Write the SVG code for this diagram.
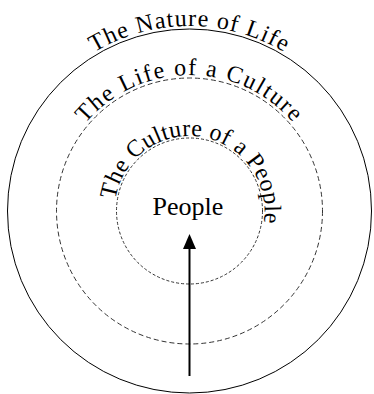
<svg xmlns="http://www.w3.org/2000/svg" xmlns:xlink="http://www.w3.org/1999/xlink" width="374" height="394" viewBox="0 0 374 394">
  <style>
    .ring { fill: none; stroke: #000; stroke-width: 1; }
    .dash1 { stroke: #333; stroke-dasharray: 5 3; }
    .dash2 { stroke: #333; stroke-dasharray: 3 2; }
    .arc { font-family: "Liberation Serif", "Times New Roman", serif; font-size: 24px; fill: #000; }
    .label { font-family: "Liberation Serif", "Times New Roman", serif; font-size: 26px; fill: #000; text-anchor: middle; }
  </style>
  <defs>
    <path id="p-outer" d="M189.5,396 A185,185 0 1,1 189.5,26 A185,185 0 1,1 189.5,396"/>
    <path id="p-middle" d="M189.5,347 A136,136 0 1,1 189.5,75 A136,136 0 1,1 189.5,347"/>
    <path id="p-inner" d="M189.5,286 A75,75 0 1,1 189.5,136 A75,75 0 1,1 189.5,286"/>
    <marker id="arrowhead" markerUnits="userSpaceOnUse" viewBox="0 0 15 13" markerWidth="15" markerHeight="13" refX="7" refY="6.5" orient="auto">
      <path d="M0,0 L15,6.5 L0,13 z" fill="#000"/>
    </marker>
  </defs>

  <g id="nature-of-life">
    <circle class="ring" cx="189.5" cy="211" r="182"/>
    <text class="arc" letter-spacing="1.1"><textPath xlink:href="#p-outer" href="#p-outer" startOffset="50%" text-anchor="middle">The Nature of Life</textPath></text>
  </g>

  <g id="life-of-a-culture">
    <circle class="ring dash1" cx="189.5" cy="211" r="133"/>
    <text class="arc" letter-spacing="1.6"><textPath xlink:href="#p-middle" href="#p-middle" startOffset="50%" text-anchor="middle">The Life of a Culture</textPath></text>
  </g>

  <g id="culture-of-a-people">
    <circle class="ring dash2" cx="189.5" cy="211" r="73"/>
    <text class="arc" letter-spacing="0.3"><textPath xlink:href="#p-inner" href="#p-inner" startOffset="52.5%" text-anchor="middle">The Culture of a People</textPath></text>
  </g>

  <g id="people">
    <text class="label" x="188" y="215">People</text>
  </g>

  <g id="connectors">
    <line x1="189.5" y1="376" x2="189.5" y2="242" stroke="#000" stroke-width="2" marker-end="url(#arrowhead)"/>
  </g>
</svg>
